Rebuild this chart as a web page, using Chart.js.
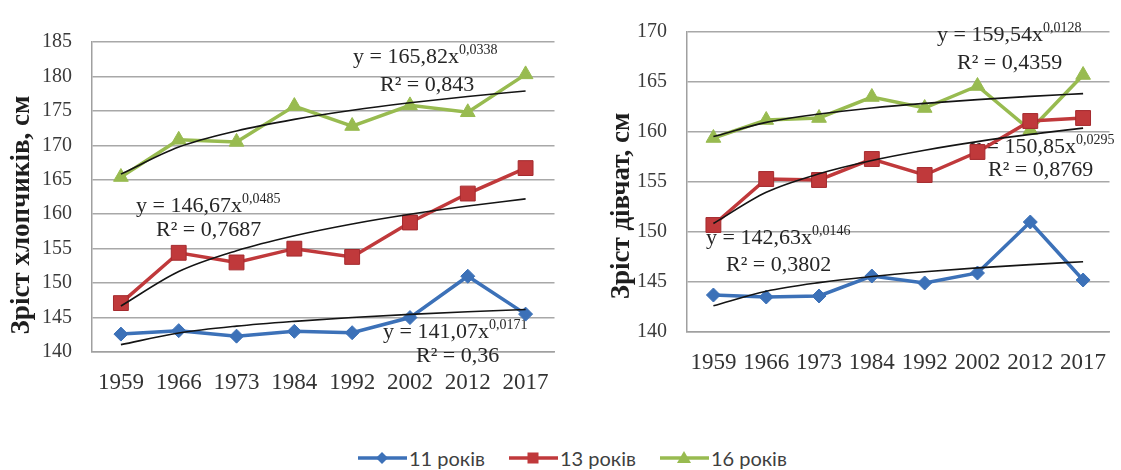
<!DOCTYPE html>
<html>
<head>
<meta charset="utf-8">
<script src="https://cdn.jsdelivr.net/npm/chart.js@4.4.1/dist/chart.umd.min.js"></script>
<style>
  body { margin: 0; background: #fff; width: 1121px; height: 470px; overflow: hidden; position: relative; }
  #boys { position: absolute; left: 0; top: 0; }
  #girls { position: absolute; left: 566px; top: 0; }
  #legend { position: absolute; left: 358px; top: 446px; height: 24px; display: flex; align-items: center;
            font: 20px Lato, "Liberation Sans", sans-serif; color: #404040; line-height: 24px; }
  .item { display: flex; align-items: center; margin-right: 24px; }
  .item svg { margin-right: 2px; }
</style>
</head>
<body>
<canvas id="boys" width="566" height="400"></canvas>
<canvas id="girls" width="555" height="380"></canvas>
<div id="legend"></div>
<script>
const years = ["1959", "1966", "1973", "1984", "1992", "2002", "2012", "2017"];
const seriesNames = ["11 років", "13 років", "16 років"];

// boys, cm
const boys11 = [142.6, 143.1, 142.3, 143.0, 142.8, 145.0, 151.0, 145.5];
const boys13 = [147.1, 154.4, 153.0, 155.0, 153.8, 158.8, 163.0, 166.7];
const boys16 = [165.4, 170.8, 170.5, 175.7, 172.8, 175.8, 174.8, 180.3];
// girls, cm
const girls11 = [143.7, 143.5, 143.6, 145.6, 144.9, 145.9, 151.0, 145.2];
const girls13 = [150.7, 155.3, 155.2, 157.3, 155.7, 158.0, 161.1, 161.4];
const girls16 = [159.4, 161.2, 161.4, 163.5, 162.4, 164.6, 160.2, 165.7];

// power trendlines (values at each year)
const boysTrend11 = [141.07, 142.75, 143.75, 144.45, 145.01, 145.46, 145.84, 146.18];
const boysTrend13 = [146.67, 151.68, 154.70, 156.87, 158.58, 159.99, 161.19, 162.23];
const boysTrend16 = [165.82, 169.75, 172.09, 173.77, 175.09, 176.17, 177.09, 177.89];
const girlsTrend11 = [142.63, 144.08, 144.94, 145.55, 146.02, 146.41, 146.74, 147.03];
const girlsTrend13 = [150.85, 153.97, 155.82, 157.15, 158.18, 159.04, 159.76, 160.39];
const girlsTrend16 = [159.54, 160.96, 161.80, 162.40, 162.86, 163.24, 163.56, 163.84];

const boysTicks = { min: 140, max: 185, step: 5 };
const girlsTicks = { min: 140, max: 170, step: 5 };

const boysEq = [
  ["y = 165,82x", "0,0338"], ["R² = 0,843", ""],
  ["y = 146,67x", "0,0485"], ["R² = 0,7687", ""],
  ["y = 141,07x", "0,0171"], ["R² = 0,36", ""]
];
const girlsEq = [
  ["y = 159,54x", "0,0128"], ["R² = 0,4359", ""],
  ["y = 150,85x", "0,0295"], ["R² = 0,8769", ""],
  ["y = 142,63x", "0,0146"], ["R² = 0,3802", ""]
];

const blue = "#3c71b8", red = "#c0393b", redEdge = "#a52a2e", green = "#98bb50";
const serif = '"Liberation Serif", "Times New Roman", serif';

function series(label, data, color, edge, style, radius) {
  return {
    label: label, data: data, borderColor: color, backgroundColor: color,
    borderWidth: 3.5, pointStyle: style, pointRadius: radius,
    pointBackgroundColor: color, pointBorderColor: edge, pointBorderWidth: 1
  };
}
function trend(data) {
  return { data: data, borderColor: "#141414", borderWidth: 1.6, pointRadius: 0,
           cubicInterpolationMode: "monotone", fill: false };
}

// text labels + rotated axis title
function textPlugin(eq, pos, title, tx, ty) {
  return {
    id: "texts",
    beforeDatasetsDraw(chart) {
      const ctx = chart.ctx;
      ctx.save();
      ctx.fillStyle = "#262626";
      ctx.textBaseline = "middle";
      eq.forEach((e, i) => {
        ctx.font = "22px " + serif;
        ctx.fillText(e[0], pos[i][0], pos[i][1]);
        if (e[1]) {
          const w = ctx.measureText(e[0]).width;
          ctx.font = "14px " + serif;
          ctx.fillText(e[1], pos[i][0] + w, pos[i][1] - 7);
        }
      });
      ctx.restore();
    },
    afterDraw(chart) {
      const ctx = chart.ctx;
      ctx.save();
      ctx.translate(tx, ty);
      ctx.rotate(-Math.PI / 2);
      ctx.font = "bold 27px " + serif;
      ctx.fillStyle = "#1e1e1e";
      ctx.textAlign = "center";
      ctx.textBaseline = "middle";
      ctx.fillText(title, 0, 0);
      ctx.restore();
    }
  };
}

function makeChart(id, d11, d13, d16, t11, t13, t16, tk, yWidth, padTop, padRight, plugin) {
  new Chart(document.getElementById(id), {
    type: "line",
    data: {
      labels: years,
      datasets: [
        trend(t11), trend(t13), trend(t16),
        series(seriesNames[0], d11, blue, blue, "rectRot", 7),
        series(seriesNames[1], d13, red, redEdge, "rect", 10.5),
        series(seriesNames[2], d16, green, green, "triangle", 8.5)
      ]
    },
    options: {
      responsive: false,
      animation: false,
      layout: { padding: { top: padTop, right: padRight, left: 0, bottom: 0 } },
      plugins: { legend: { display: false }, tooltip: { enabled: false } },
      scales: {
        x: {
          offset: true,
          grid: { display: false },
          border: { display: true, color: "#a0a0a0", width: 1.5 },
          ticks: { color: "#333", font: { family: serif, size: 23 }, padding: 9,
                   maxRotation: 0, autoSkip: false },
          afterFit(s) { s.height = 48; }
        },
        y: {
          min: tk.min, max: tk.max,
          ticks: { stepSize: tk.step, color: "#3a3a3a", font: { family: serif, size: 20 }, padding: 20 },
          grid: { color: "#a8a8a8", lineWidth: 1.5, drawTicks: false },
          border: { display: true, color: "#a0a0a0", width: 1.5 },
          afterFit(s) { s.width = yWidth; }
        }
      }
    },
    plugins: [plugin]
  });
}

makeChart("boys", boys11, boys13, boys16, boysTrend11, boysTrend13, boysTrend16, boysTicks, 92, 42, 4,
  textPlugin(boysEq,
    [[353, 57], [380, 85], [136, 206], [156, 230], [383, 332], [416, 356]],
    "Зріст хлопчиків, см", 22, 215));

makeChart("girls", girls11, girls13, girls16, girlsTrend11, girlsTrend13, girlsTrend16, girlsTicks, 121, 24, 4,
  textPlugin(girlsEq,
    [[371, 35], [391, 63], [404, 147], [422, 170], [140, 238], [160, 265]],
    "Зріст дівчат, см", 56, 206));

// legend
const icons = [
  '<polygon points="24,4 30,10 24,16 18,10" fill="' + blue + '"/>',
  '<rect x="18.5" y="4.5" width="11" height="11" fill="' + red + '"/>',
  '<polygon points="24,3 31,15 17,15" fill="' + green + '"/>'
];
const colors = [blue, red, green];
document.getElementById("legend").innerHTML = seriesNames.map((n, i) =>
  '<div class="item"><svg width="49" height="20"><line x1="0" y1="10" x2="49" y2="10" stroke="' +
  colors[i] + '" stroke-width="3.5"/>' + icons[i] + '</svg>' + n + '</div>').join("");
</script>
</body>
</html>
